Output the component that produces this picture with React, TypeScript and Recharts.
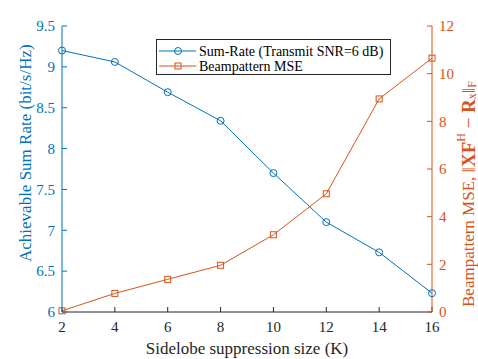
import { LineChart, Line, XAxis, YAxis } from 'recharts'

const BLUE = '#0072BD'
const ORANGE = '#D95319'
const AXIS = '#262626'
const FONT = 'Liberation Serif, serif'

// sidelobe suppression size K
const sizes = [2, 4, 6, 8, 10, 12, 14, 16]
// sum-rate (bit/s/Hz), transmit SNR = 6 dB
const sumRate = [9.2, 9.06, 8.69, 8.34, 7.7, 7.1, 6.73, 6.23]
// beampattern MSE
const beamMse = [0.05, 0.78, 1.37, 1.96, 3.24, 4.96, 8.94, 10.65]

const xTicks = [2, 4, 6, 8, 10, 12, 14, 16]
const leftTicks = [6, 6.5, 7, 7.5, 8, 8.5, 9, 9.5]
const rightTicks = [0, 2, 4, 6, 8, 10, 12]

const legendNames = ['Sum-Rate (Transmit SNR=6 dB)', 'Beampattern MSE']

const data = sizes.map((k, i) => ({ k, rate: sumRate[i], mse: beamMse[i] }))

const SquareDot = (props: any) => {
  const { cx, cy, index } = props
  if (cx == null || cy == null) return <g key={index} />
  return (
    <rect key={index} x={cx - 3} y={cy - 3} width={6} height={6} fill="none" stroke={ORANGE} strokeWidth={1} />
  )
}

const makeTick = (color: string, anchor: 'start' | 'middle' | 'end', dy: string) => (props: any) => {
  const { x, y, payload } = props
  return (
    <text x={x} y={y} dy={dy} textAnchor={anchor} fontFamily={FONT} fontSize={15} fill={color}>
      {payload.value}
    </text>
  )
}

function Legend() {
  return (
    <div
      style={{
        position: 'absolute',
        left: 156,
        top: 39,
        width: 235,
        height: 36,
        border: `1px solid ${AXIS}`,
        boxSizing: 'border-box',
        background: '#fff',
      }}
    >
      <svg width={233} height={34} style={{ display: 'block' }}>
        <line x1={2} x2={39} y1={11} y2={11} stroke={BLUE} strokeWidth={1} />
        <circle cx={21} cy={11} r={3.5} fill="none" stroke={BLUE} strokeWidth={1} />
        <text x={42} y={11} dominantBaseline="central" fontFamily={FONT} fontSize={14} fill="#000">
          {legendNames[0]}
        </text>
        <line x1={2} x2={39} y1={26} y2={26} stroke={ORANGE} strokeWidth={1} />
        <rect x={18} y={23} width={6} height={6} fill="none" stroke={ORANGE} strokeWidth={1} />
        <text x={42} y={26} dominantBaseline="central" fontFamily={FONT} fontSize={14} fill="#000">
          {legendNames[1]}
        </text>
      </svg>
    </div>
  )
}

export default function App() {
  return (
    <div
      style={{
        position: 'absolute',
        left: 0,
        top: 0,
        width: 478,
        height: 359,
        background: '#fff',
        fontFamily: FONT,
      }}
    >
      <LineChart width={478} height={359} data={data} margin={{ top: 26, right: 0, bottom: 0, left: 0 }}>
        <XAxis
          dataKey="k"
          type="number"
          domain={[2, 16]}
          ticks={xTicks}
          height={47}
          stroke={AXIS}
          tickSize={-5}
          tickMargin={14}
          tick={makeTick(AXIS, 'middle', '0.71em')}
          label={{
            content: () => (
              <text x={247} y={348} textAnchor="middle" dominantBaseline="central" fontFamily={FONT} fontSize={17} fill={AXIS}>
                Sidelobe suppression size (K)
              </text>
            ),
          }}
        />
        <XAxis
          xAxisId="top"
          dataKey="k"
          type="number"
          orientation="top"
          domain={[2, 16]}
          ticks={xTicks}
          height={0}
          stroke={AXIS}
          tickSize={-5}
          tick={false}
        />
        <YAxis
          yAxisId="left"
          domain={[6, 9.5]}
          ticks={leftTicks}
          width={62}
          stroke={BLUE}
          tickSize={-5}
          tickMargin={12}
          tick={makeTick(BLUE, 'end', '0.355em')}
          label={{
            content: () => (
              <text
                x={25}
                y={262}
                transform="rotate(-90 25 262)"
                textAnchor="start"
                dominantBaseline="central"
                fontFamily={FONT}
                fontSize={17}
                fill={BLUE}
              >
                Achievable Sum Rate (bit/s/Hz)
              </text>
            ),
          }}
        />
        <YAxis
          yAxisId="right"
          orientation="right"
          domain={[0, 12]}
          ticks={rightTicks}
          width={46}
          stroke={ORANGE}
          tickSize={-5}
          tickMargin={12}
          tick={makeTick(ORANGE, 'start', '0.355em')}
          label={{
            content: () => (
              <text
                x={468}
                y={307}
                transform="rotate(-90 468 307)"
                textAnchor="start"
                dominantBaseline="central"
                fontFamily={FONT}
                fontSize={17}
                fill={ORANGE}
              >
                Beampattern MSE, <tspan fontSize={19}>‖</tspan>
                <tspan fontSize={19} fontWeight="bold">XF</tspan>
                <tspan fontSize={12} dy={-7}>H</tspan>
                <tspan fontSize={19} dy={7}> − </tspan>
                <tspan fontSize={19} fontWeight="bold">R</tspan>
                <tspan fontSize={12} dy={4}>x</tspan>
                <tspan fontSize={19} dy={-4}>‖</tspan>
                <tspan fontSize={12} dy={4}>F</tspan>
              </text>
            ),
          }}
        />
        <Line
          yAxisId="left"
          dataKey="rate"
          stroke={BLUE}
          strokeWidth={1}
          dot={{ r: 3.5, fill: 'none', stroke: BLUE, strokeWidth: 1 }}
          activeDot={false}
          isAnimationActive={false}
        />
        <Line
          yAxisId="right"
          dataKey="mse"
          stroke={ORANGE}
          strokeWidth={1}
          dot={SquareDot}
          activeDot={false}
          isAnimationActive={false}
        />
      </LineChart>
      <Legend />
    </div>
  )
}
